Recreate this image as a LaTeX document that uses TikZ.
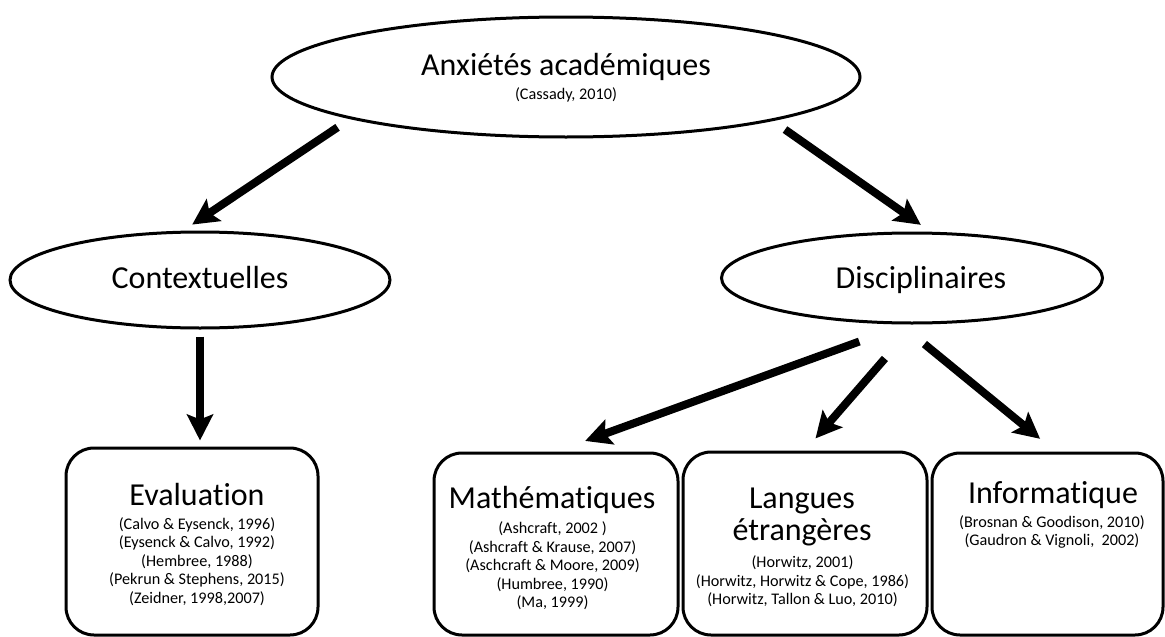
\documentclass[tikz,border=0pt]{standalone}
\usepackage{fontspec}
\setmainfont{Carlito}[Ligatures=NoCommon]
\usetikzlibrary{shapes.geometric,arrows.meta}

\tikzset{
  oval/.style={draw,ellipse,line width=3pt,inner sep=0pt},
  card/.style={draw,rectangle,rounded corners=28pt,line width=3pt,inner sep=0pt},
  head/.style={font=\fontsize{32}{32.5}\selectfont,inner sep=0pt,align=center},
  refs/.style={font=\fontsize{16.2}{18.5}\selectfont,inner sep=0pt,align=center,anchor=north},
  fat/.style={line width=8pt,-{Stealth[length=26pt,width=26pt,inset=5pt]}}
}

\begin{document}
\begin{tikzpicture}[x=1pt,y=-1pt]
\useasboundingbox (0,0) rectangle (1165,637);

% ovals
\node[oval,minimum width=588pt,minimum height=120pt] (anx) at (566,77) {};
\node[oval,minimum width=380pt,minimum height=96pt] (ctx) at (200,280) {};
\node[oval,minimum width=381pt,minimum height=90pt] (dis) at (912,278) {};

% boxes
\node[card,minimum width=252pt,minimum height=187pt] (eval) at (192,541.5) {};
\node[card,minimum width=244pt,minimum height=182pt] (math) at (556,544) {};
\node[card,minimum width=244pt,minimum height=183pt] (lang) at (805,543.5) {};
\node[card,minimum width=231pt,minimum height=182pt] (info) at (1047.5,544) {};

% texts
\node[head,anchor=base] (anxt) at (566,75) {Anxiétés académiques};
\node[refs,anchor=base] (anxr) at (566,99) {(Cassady, 2010)};
\node[head,anchor=base] (ctxt) at (200,288) {Contextuelles};
\node[head,anchor=base] (dist) at (921,288) {Disciplinaires};

\node[head,anchor=base] (evalt) at (197,505) {Evaluation};
\node[refs] (evalr) at (197,517.2) {(Calvo \& Eysenck, 1996)\\(Eysenck \& Calvo, 1992)\\(Hembree, 1988)\\(Pekrun \& Stephens, 2015)\\(Zeidner, 1998,2007)};
\node[head,anchor=base] (matht) at (552,508) {Mathématiques};
\node[refs] (mathr) at (552.5,521.9) {(Ashcraft, 2002 )\\(Ashcraft \& Krause, 2007)\\(Aschcraft \& Moore, 2009)\\(Humbree, 1990)\\(Ma, 1999)};
\node[head,anchor=north] (langt) at (802,487.4) {Langues\\étrangères};
\node[refs] (langr) at (802.5,555.9) {(Horwitz, 2001)\\(Horwitz, Horwitz \& Cope, 1986)\\(Horwitz, Tallon \& Luo, 2010)};
\node[head,anchor=base] (infot) at (1053,503) {Informatique};
\node[refs] (infor) at (1052,515.2) {(Brosnan \& Goodison, 2010)\\(Gaudron \& Vignoli,~ 2002)};

% arrows
\draw[fat,shorten <=15pt,shorten >=11pt] (anx.191.8) -- (ctx.109.2);
\draw[fat,shorten <=15pt,shorten >=12pt] (anx.348.4) -- (dis.68.1);
\draw[fat,shorten <=7pt,shorten >=6pt] (ctx.south) -- (ctx.south |- eval.north);
\draw[fat,shorten <=50pt,shorten >=31pt] (dis.263.6) -- (math.north);
\draw[fat,shorten <=45pt,shorten >=16pt] (dis.273.4) -- (lang.north);
\draw[fat,shorten <=31pt,shorten >=20pt] (dis.256.6) -- (info.85);
\end{tikzpicture}
\end{document}
